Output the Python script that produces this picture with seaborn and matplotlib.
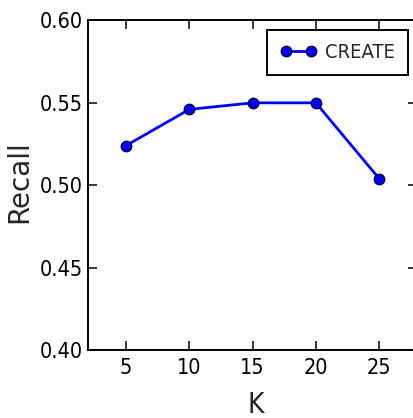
import matplotlib
matplotlib.use("Agg")
import matplotlib.pyplot as plt
import seaborn as sns
import pandas as pd

# Recall of CREATE for different neighbourhood sizes K
k_values = [5, 10, 15, 20, 25]
recall_values = [0.524, 0.546, 0.550, 0.550, 0.504]
series_name = "CREATE"
y_ticks = [0.40, 0.45, 0.50, 0.55, 0.60]
x_ticks = [5, 10, 15, 20, 25]

df = pd.DataFrame({"K": k_values, "Recall": recall_values, "model": series_name})

sns.set_style("ticks")
plt.rcParams["font.family"] = ["DejaVu Sans"]
plt.rcParams["font.stretch"] = "condensed"
plt.rcParams.update({
    "xtick.direction": "in",
    "ytick.direction": "in",
    "xtick.top": True,
    "ytick.right": True,
    "xtick.major.size": 6.5,
    "ytick.major.size": 6.5,
    "xtick.major.width": 1.1,
    "ytick.major.width": 1.1,
    "axes.edgecolor": "black",
    "axes.linewidth": 1.4,
})

fig = plt.figure(figsize=(4.13, 4.18), dpi=100)
ax = fig.add_axes([0.213, 0.163, 0.797, 0.788])

sns.lineplot(
    data=df, x="K", y="Recall", hue="model", palette=["#0000ff"],
    marker="o", markersize=7.5, markeredgecolor="#000033", markeredgewidth=1.0,
    linewidth=2.0, ax=ax,
)

ax.set_xlim(2, 28)
ax.set_ylim(0.40, 0.60)
ax.set_xticks(x_ticks)
ax.set_yticks(y_ticks)
ax.set_yticklabels([f"{v:.2f}" for v in y_ticks])
ax.tick_params(axis="both", labelsize=15.5, colors="black")
ax.tick_params(axis="x", pad=6)
ax.tick_params(axis="y", pad=3.5)
ax.set_xlabel("K", fontsize=20)
ax.xaxis.set_label_coords(0.509, -0.125)
ax.set_ylabel("Recall", fontsize=20, fontstretch="normal")
ax.yaxis.set_label_coords(-0.165, 0.51)

leg = ax.legend(loc="upper right", numpoints=2, fontsize=14.5, fancybox=False,
                frameon=True, handlelength=1.85, handletextpad=0.4,
                borderpad=0.65, borderaxespad=0.45)
leg.get_frame().set_edgecolor("black")
leg.get_frame().set_linewidth(1.4)
leg.get_frame().set_alpha(1.0)

for spine in ax.spines.values():
    spine.set_visible(True)

fig.savefig("out.png", dpi=100)
